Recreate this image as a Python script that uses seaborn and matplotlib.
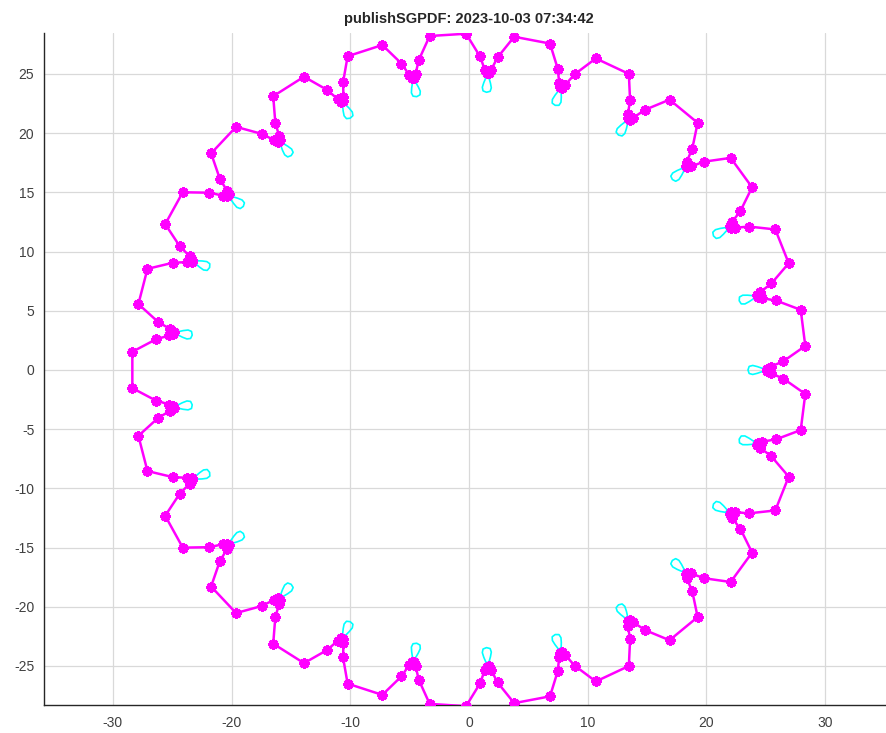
import numpy as np
import pandas as pd
import matplotlib
matplotlib.use("Agg")
import matplotlib.pyplot as plt
import seaborn as sns

# ---- data ----
title = "publishSGPDF: 2023-10-03 07:34:42"
n_teeth = 25
# one tooth period (angle offsets in degrees from the cusp, radius)
profile_deg = [-1.6, -0.6, -0.2, 0.2, 0.6, 1.6, 4.1, 10.3]
profile_r = [26.5, 25.4, 25.1, 25.1, 25.4, 26.5, 28.4, 28.4]
# cyan tear-drop marker below each cusp (radius, tangential offset)
tear_r = [24.75, 24.3, 23.9, 23.6, 23.5, 23.6, 23.9, 24.3, 24.75, 24.75]
tear_t = [0.12, 0.28, 0.38, 0.3, 0.0, -0.3, -0.38, -0.28, -0.12, 0.12]
xticks = [-30, -20, -10, 0, 10, 20, 30]
yticks = [-25, -20, -15, -10, -5, 0, 5, 10, 15, 20, 25]

# ---- build geometry ----
cusp_deg = [360.0 / n_teeth * k for k in range(n_teeth)]
gx, gy = [], []
for c in cusp_deg:
    for d, r in zip(profile_deg, profile_r):
        a = np.deg2rad(c + d)
        gx.append(r * np.cos(a))
        gy.append(r * np.sin(a))
gx.append(gx[0]); gy.append(gy[0])
gear = pd.DataFrame({"x": gx, "y": gy, "order": range(len(gx))})

rows = []
for k, c in enumerate(cusp_deg):
    a = np.deg2rad(c)
    for i, (r, t) in enumerate(zip(tear_r, tear_t)):
        rows.append({"x": r * np.cos(a) - t * np.sin(a),
                     "y": r * np.sin(a) + t * np.cos(a),
                     "tooth": k, "i": i})
tears = pd.DataFrame(rows)

# ---- plot ----
sns.set_style("white")
plt.rcParams["font.family"] = ["Liberation Sans", "DejaVu Sans"]
plt.rcParams["axes.unicode_minus"] = False

fig = plt.figure(figsize=(8.87, 7.33), dpi=100)
ax = fig.add_axes([44 / 887, 28 / 733, 850 / 887, 672 / 733])

sns.lineplot(data=tears, x="x", y="y", units="tooth", estimator=None,
             sort=False, color="#00FFFF", linewidth=1.2, ax=ax, zorder=3)
sns.lineplot(data=gear, x="x", y="y", sort=False, estimator=None,
             color="#FF00FF", linewidth=1.8, marker=(8, 2, 0),
             markersize=7.5, markeredgewidth=2.0, markeredgecolor="#FF00FF",
             ax=ax, zorder=4)

ax.set_xlim(-35.8, 35.8)
ax.set_ylim(-28.3, 28.46)
ax.set_xticks(xticks)
ax.set_yticks(yticks)
ax.set_xlabel("")
ax.set_ylabel("")
ax.grid(True, color="#d9d9d9", linewidth=0.9)
ax.set_axisbelow(True)
for s in ["top", "right"]:
    ax.spines[s].set_visible(False)
for s in ["left", "bottom"]:
    ax.spines[s].set_color("#262626")
    ax.spines[s].set_linewidth(1.0)
ax.tick_params(direction="in", length=5, width=1, colors="#262626",
               labelsize=10, labelcolor="#404040")
ax.tick_params(axis="y", pad=7)
ax.tick_params(axis="x", pad=8)
ax.set_title(title, fontsize=10.5, fontweight="bold", pad=7)

fig.savefig("out.png", dpi=100)
